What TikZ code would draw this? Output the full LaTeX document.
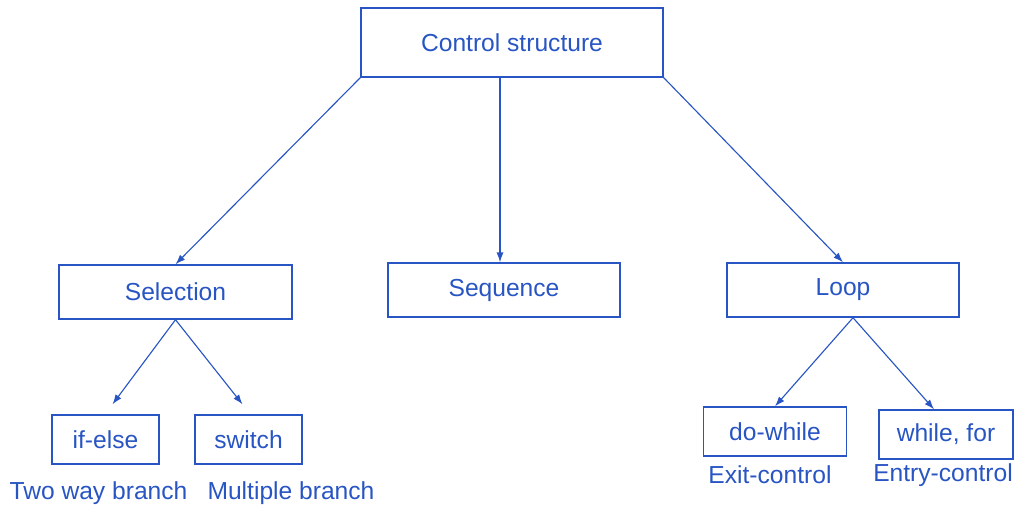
\documentclass[tikz,border=0pt]{standalone}
\usepackage{fontspec}
\setmainfont{Liberation Sans}
\usetikzlibrary{calc,arrows.meta}
\definecolor{cblue}{RGB}{40,85,195}
\tikzset{
  box/.style={draw=cblue, line width=1pt, text=cblue, inner sep=0pt},
  note/.style={text=cblue, inner sep=0pt},
  link/.style={draw=cblue, line width=0.8pt, -{Latex[length=7pt,width=5pt]}}
}
\begin{document}
\begin{tikzpicture}[x=0.025cm, y=-0.025cm, font=\fontsize{17.5}{20}\selectfont]
    \useasboundingbox (0,0) rectangle (1016,507);
    % top level
    \node[box, minimum width=7.55cm, minimum height=1.725cm] (ctrl) at (512,42.5) {Control structure};
    % second level
    \node[box, minimum width=5.825cm, minimum height=1.35cm] (sel) at (175.5,292) {Selection};
    \node[box, minimum width=5.8cm, minimum height=1.35cm] (seq) at (504,290) {Sequence};
    \node[box, minimum width=5.8cm, minimum height=1.35cm] (loop) at (843,290) {Loop};
    % third level
    \node[box, minimum width=2.675cm, minimum height=1.225cm] (ifelse) at (105.5,439.5) {if-else};
    \node[box, minimum width=2.675cm, minimum height=1.225cm] (switch) at (248.5,439.5) {switch};
    \node[box, minimum width=3.575cm, minimum height=1.225cm] (dowhile) at (775,431.5) {do-while};
    \node[box, minimum width=3.35cm, minimum height=1.225cm] (whilefor) at (946,434.5) {while, for};
    % notes under the boxes
    \node[note] (twoway) at (98.5,493) {Two way branch};
    \node[note] (multi) at (291,493) {Multiple branch};
    \node[note] (exitc) at (770,475) {Exit-control};
    \node[note] (entryc) at (943,475) {Entry-control};
    % connectors
    \draw[link] (ctrl.south west) -- (sel.north);
    \draw[link] ($(ctrl.south -| seq.north)+(-4,0)$) -- ($(seq.north)+(-4,0)$);
    \draw[link] (ctrl.south east) -- (loop.north);
    \draw[link] (sel.south) -- ($(ifelse.north)+(7,-10)$);
    \draw[link] (sel.south) -- ($(switch.north)+(-6,-10)$);
    \draw[link] ($(loop.south)+(10,0)$) -- (dowhile.north);
    \draw[link] ($(loop.south)+(10,0)$) -- ($(whilefor.north)+(-12,0)$);
\end{tikzpicture}
\end{document}
